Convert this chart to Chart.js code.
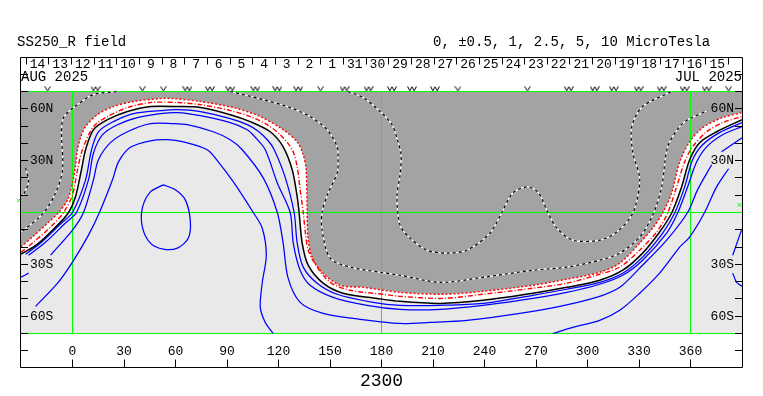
<!DOCTYPE html>
<html>
<head>
<meta charset="utf-8">
<style>html,body{margin:0;padding:0;background:#fff}canvas{display:block}</style>
<script src="https://cdn.jsdelivr.net/npm/chart.js@4"></script>
</head>
<body>
<canvas id="c" width="763" height="396"></canvas>
<script>
const dayLabels = ['14','13','12','11','10','9','8','7','6','5','4','3','2','1','31','30','29','28','27','26','25','24','23','22','21','20','19','18','17','16','15'];
const dayLons = [-20.4,-7.2,6,19.2,32.4,45.6,58.8,72,85.2,98.4,111.6,124.8,138,151.2,164.4,177.6,190.8,204,217.2,230.4,243.6,256.8,270,283.2,296.4,309.6,322.8,336,349.2,362.4,375.6];
const dayTickLons = [-27,-13.8,-0.6,12.6,25.8,39,52.2,65.4,78.6,91.8,105,118.2,131.4,144.6,157.8,171,184.2,197.4,210.6,223.8,237,250.2,263.4,276.6,289.8,303,316.2,329.4,342.6,355.8,369,382.2];
const markVLons = [-14.5,40.7,52.9,144.5,224.5,265];
const markWLons = [13.4,66.9,80,91.9,106.5,119.3,131.5,158.5,172.5,186.1,197.8,211.2,289.1,304.2,315.3,329.8,343.2,356.6,369.4];
const markVLons2 = [382.2];

const redOuter = [[-30,-19.8],[-22.7,-13.6],[-14.5,-6.1],[-8.1,0],[-2.9,7.3],[0,17.1],[1.7,26.4],[2.9,36.3],[4.7,43.3],[7.6,49.7],[14.5,56.6],[23.9,61.3],[35.5,64.2],[51.2,65.9],[58.8,65.9],[74.5,64.2],[93.7,60.7],[109.4,55.5],[122.7,47.9],[130.9,40.9],[134.4,33.4],[136.1,24.7],[136.7,0],[137.3,-16],[139.6,-25.8],[145.4,-34.6],[155.9,-42.1],[169.3,-43.3],[190.8,-46.2],[215.8,-47.3],[239.1,-45.6],[268.2,-42.1],[287.9,-38.6],[307.1,-34.6],[318.8,-29.3],[330.4,-17.7],[338,-9],[343.8,-0.3],[349,11.3],[353.7,29.3],[359.5,40.9],[367.1,49.1],[378.7,54.9],[390,57.8]];
const redInner = [[-30,-23],[-22.7,-17.1],[-12.8,-8.4],[-5.2,0],[0,10.2],[2.9,24.7],[5.8,36.3],[12.2,49.7],[20.4,55.5],[32,60.7],[45.4,63.6],[61.1,63.6],[74.5,62.4],[91.9,59],[103.5,55.5],[113.4,50.8],[121,45],[128,36.3],[130.9,26.4],[132.6,13.1],[134.4,0],[135.5,-10.2],[137.3,-21.8],[142.5,-31.6],[150.1,-40.4],[161.7,-45],[180.9,-47.3],[190.8,-48.5],[215.8,-49.7],[239.1,-47.3],[268.2,-43.8],[287.9,-40.9],[307.1,-35.7],[318.8,-31.6],[330.4,-21.8],[340.3,-11.3],[346.7,-0.3],[351.9,14.8],[356.6,29.3],[361.2,38],[369.4,46.7],[378.7,52],[390,55.5]];
const blackLine = [[-30,-24.1],[-20.4,-18.3],[-8.7,-7.3],[-2.3,0],[1.7,9],[5.2,24.7],[7.6,36.3],[12.2,47.9],[20.4,53.7],[32,58.4],[45.4,61.3],[61.1,61.3],[74.5,60.7],[91.9,56.6],[103.5,52.6],[115.2,46.7],[122.7,38],[128,24.7],[130.9,9],[132,0],[133.8,-17.7],[137.3,-30.5],[146,-40.9],[157.6,-46.7],[177.4,-49.7],[190.8,-51.4],[214.1,-52.6],[239.1,-50.8],[268.2,-46.7],[287.9,-43.3],[307.1,-39.2],[320.5,-33.4],[332.1,-23.5],[342,-11.3],[349,-0.3],[354.8,14.8],[359.5,30.5],[365.3,40.4],[375.2,46.7],[390,53.7]];
const blue1 = [[-27.3,-24.1],[-18.6,-17.7],[-5.8,-5.5],[0,0],[7.6,18.9],[11.1,36.3],[15.1,46.7],[23.9,52.6],[35.5,57.2],[51.2,58.9],[61.1,59.5],[74.5,58.4],[91.9,54.3],[101.8,50.8],[108.2,47],[114,41.5],[117.5,36.3],[123.8,20.6],[129.1,0],[130.9,-17.7],[134.4,-31.6],[142.5,-40.9],[154.2,-47.3],[175.1,-52],[190.8,-53.7],[214.1,-53.7],[239.1,-52.6],[268.2,-47.9],[287.9,-44.4],[307.1,-40.4],[320.5,-35.1],[332.1,-25.8],[343.8,-11.9],[350.8,-0.3],[356.6,14.8],[361.2,30.5],[367.1,39.2],[376.9,46.2],[390,52]];
const blue2 = [[-25.6,-24.7],[-16.3,-17.7],[-3.5,-5.5],[2.3,0],[9.3,18.9],[12.2,34.3],[17.5,45],[26.2,50.8],[37.8,54.9],[51.2,57.2],[61.1,57.8],[74.5,56],[91.9,52],[101.8,47.9],[106.2,43.8],[112.3,36.3],[119.3,17.1],[126.8,0],[128.6,-17.7],[132.6,-33.4],[138.4,-42.1],[151.8,-49.1],[171.6,-53.7],[190.8,-56],[214.1,-56],[239.1,-53.7],[268.2,-49.7],[287.9,-46.2],[307.1,-41.5],[320.5,-36.3],[332.1,-27.6],[346.1,-11.9],[352.5,-0.3],[358.3,14.8],[363.6,29.3],[369.4,38],[378.7,45],[390,49.7]];
const blue3 = [[-12.8,-24.7],[0,-10.2],[6.4,0],[12.2,18.9],[15.1,30.5],[22.1,40.4],[32,46.7],[45.4,51.4],[58.8,51.4],[66.9,50.8],[82,46.7],[91.9,42.1],[98.9,36.3],[111.1,20],[119.3,0],[122.7,-17.7],[125.6,-38],[132.6,-52],[146,-58.4],[167.5,-61.8],[190.8,-64.2],[208.3,-63.6],[229.8,-62.4],[260.6,-58.4],[283.9,-54.3],[307.1,-48.5],[318.8,-43.3],[330.4,-32.2],[346.1,-16],[358.3,0],[364.1,13.1],[372.3,27.6]];
const blue3b = [[378.1,35.1],[390,43.3]];
const blue3c = [[-30,-37.5],[-25.6,-35.1]];
const blue4 = [[-21.5,-54.3],[-8.7,-40.9],[0,-28.7],[9.3,-13.1],[15.7,0],[23.3,18.9],[26.8,29.3],[33.7,37.7],[45.4,41.5],[55.3,42.1],[64.6,40.9],[78.5,36.3],[84.9,29.3],[93.7,17.7],[105.3,0],[110.5,-9],[112.9,-24.7],[110.5,-40.9],[109.4,-54.9],[112.3,-63.6],[116.9,-70]];
const blue4b = [[279.8,-70],[291.4,-66.5],[307.1,-62.4],[318.8,-56.6],[330.4,-46.7],[342,-35.1],[353.7,-20],[359.5,-14.2],[368.2,0],[375.2,14.8],[382.2,25.3]];
const blue5a = [[389.7,-10.2],[384.6,-24.7]];
const blue5b = [[384.6,-35.1],[386.9,-40.4],[390,-42.7]];
const blueLoop = [[52.9,16],[59.9,13.1],[65.7,7.3],[68.6,-4.4],[67.5,-14.8],[61.1,-20.6],[52.9,-21.2],[45.4,-17.7],[40.7,-8.4],[40.7,2.6],[45.4,11.9],[52.9,16]];
const dark1a = [[25.6,70],[12.2,68.2],[0.6,60.7],[-5.2,54.9],[-6.4,46.7],[-5.8,24.7],[-9.9,11.3],[-16.9,-0.3],[-29.7,-11.3]];
const dark1b = [[91.9,70],[111.1,65.3],[126.8,60.7],[138.4,55.5],[148.3,47.9],[154.2,38],[154.7,32.2],[154.2,22.9],[148.9,11.3],[145.4,0],[145.4,-10.2],[150.1,-26.4],[161.7,-31.6],[179.2,-34.6],[190.8,-36.3],[214.1,-40.4],[239.1,-37.5],[268.2,-33.4],[287.9,-31.6],[307.1,-27.6],[318.8,-23.5],[330.4,-14.2],[338,-1.5],[343.2,14.8],[346.7,38],[353.7,49.7],[359.5,54.3],[370,58.9]];
const dark2a = [[160.5,70],[169.3,66.5],[179.2,58.4],[186.1,50.8],[189.6,40.9],[191.4,33.4],[190.8,21.8],[189,9],[190.8,-7.3],[196.6,-14.8],[206.5,-21.8],[218.1,-23.5],[229.8,-21.8],[243.2,-11.9],[250.1,0],[256.5,11.3],[264.7,14.8],[271.1,11.9],[276.9,0],[282.1,-9],[291.4,-16],[307.1,-16],[317,-11.3],[326.4,-0.3],[330.4,18.9],[326.4,34.6],[325.8,49.7],[332.1,61.3],[349,70]];
const dark2b = [[-27.3,25.8],[-25.6,17.7],[-28.5,10.2]];
const greyBand = [[-30,70],[390,70]];
const greenH70 = [[-30,70],[390,70]];
const greenHm70 = [[-30,-70],[390,-70]];
const greenH0 = [[-30,0],[390,0]];
const greenV0 = [[0,70],[0,-70]];
const greenV180 = [[180,70],[180,-70]];
const greenV360 = [[360,70],[360,-70]];
const greenMarks = [[-31.4,7],[388.6,4.4]];
const yLabelMap = {60:'60N',30:'30N','-30':'30S','-60':'60S'};
const titleLeft = 'SS250_R field';
const titleRight = '0, \u00b10.5, 1, 2.5, 5, 10 MicroTesla';
const dateLeft = 'AUG 2025';
const dateRight = 'JUL 2025';
const bottomLabel = '2300';

const FONT = '"Liberation Mono", monospace';
const pts = a => a.map(p => ({x:p[0], y:p[1]}));
function glyph(w, poly){
  const c = document.createElement('canvas'); c.width = w; c.height = 6;
  const g = c.getContext('2d'); g.strokeStyle = '#000'; g.lineWidth = 1;
  g.beginPath(); poly.forEach((p,i)=> i?g.lineTo(p[0],p[1]):g.moveTo(p[0],p[1])); g.stroke();
  return c;
}
const vGlyph = glyph(7, [[0.5,0.5],[3.5,5],[6.5,0.5]]);
const wGlyph = glyph(10, [[0.5,0.5],[2.8,5],[5,1],[7.2,5],[9.5,0.5]]);

const sets = [];
const area = (data,color)=>sets.push({data:pts(data),borderWidth:0,borderColor:color,backgroundColor:color,fill:{value:-70},pointRadius:0,tension:0.3});
const line = (data,color,w,dash)=>sets.push({data:pts(data),borderColor:color,borderWidth:w||1,borderDash:dash||[],fill:false,pointRadius:0,tension:0.3,borderCapStyle:'butt'});
const straight = (data,color)=>sets.push({data:pts(data),borderColor:color,borderWidth:1,fill:false,pointRadius:0,tension:0});
const mark = (lons,img)=>sets.push({data:lons.map(v=>({x:v,y:71.6})),showLine:false,pointStyle:img,pointRadius:4,clip:false});

area(greyBand,'#a3a3a3');
area(redOuter,'#ffffff');
area(blackLine,'#e9e9e9');
[greenH70,greenHm70,greenH0,greenV0,greenV180,greenV360].forEach(d=>straight(d,'#00ff00'));
[blue4,blue4b,blue3,blue3b,blue3c,blue2,blue1,blue5a,blue5b,blueLoop].forEach(d=>line(d,'#0000ff',1.25));
line(blackLine,'#000000',1.5);
line(redInner,'#ff0000',1.4,[5,2,1,2]);
line(redOuter,'#ff0000',1.4,[2,2]);
[dark1a,dark1b,dark2a,dark2b].forEach(d=>{line(d,'#ffffff',1.2);line(d,'#000000',1.2,[3,3]);});
mark(markVLons.concat(markVLons2),vGlyph);
mark(markWLons,wGlyph);
sets.push({data:pts(greenMarks),showLine:false,pointStyle:'crossRot',pointRadius:2.5,borderColor:'#00ff00',borderWidth:1,clip:false});
sets.forEach((s,i)=>{s.order = sets.length - i;});

const framePlugin = {
  id:'frame',
  afterDatasetsDraw(chart){
    const g = chart.ctx, xs = chart.scales.x, ys = chart.scales.y;
    const L=20.5,R=742.5,T=57.5,B=367.5;
    g.save();
    g.strokeStyle='#000'; g.lineWidth=1;
    g.beginPath();
    g.rect(L,T,R-L,B-T);
    ys.ticks.forEach(t=>{
      if(t.value===0||Math.abs(t.value)===90) return;
      const y=Math.floor(ys.getPixelForValue(t.value))+0.5;
      g.moveTo(L,y);g.lineTo(L+7.5,y);
      g.moveTo(R,y);g.lineTo(R-7.5,y);
    });
    xs.ticks.forEach(t=>{
      if(t.value<0||t.value>360) return;
      const x=Math.floor(xs.getPixelForValue(t.value))+0.5;
      g.moveTo(x,B);g.lineTo(x,B-8);
    });
    dayTickLons.forEach(v=>{
      const x=Math.floor(xs.getPixelForValue(v))+0.5;
      g.moveTo(x,T);g.lineTo(x,T+7);
    });
    g.stroke();
    g.fillStyle='#000';
    g.textBaseline='alphabetic';
    g.font='14px '+FONT;
    g.textAlign='left';
    g.fillText(titleLeft,17,46);
    g.fillText(titleRight,433,46);
    g.fillText(dateLeft,21,81);
    g.textAlign='right';
    g.fillText(dateRight,742,81);
    g.textAlign='center';
    g.font='18px '+FONT;
    g.fillText(bottomLabel,xs.getPixelForValue(180),386);
    g.restore();
  }
};
const zeroH = s=>{s.height=0;};
const zeroW = s=>{s.width=0;};
const yFmt = v=>yLabelMap[v]||'';
const tickFont = {family:FONT,size:13};

new Chart(document.getElementById('c'),{
  type:'line',
  data:{datasets:sets},
  plugins:[framePlugin],
  options:{
    responsive:false,animation:false,devicePixelRatio:1,
    layout:{padding:{left:21,right:21,top:56.93,bottom:27.93}},
    plugins:{legend:{display:false},tooltip:{enabled:false},title:{display:false}},
    events:[],
    scales:{
      x:{type:'linear',position:'bottom',min:-30,max:390,afterFit:zeroH,
        grid:{display:false,drawTicks:false},border:{display:false},
        ticks:{z:2,mirror:true,stepSize:30,color:'#000',font:tickFont,padding:8.5,maxRotation:0,autoSkip:false,
          callback:v=>(v<0||v>360)?'':String(v)}},
      x2:{type:'linear',position:'top',min:-30,max:390,afterFit:zeroH,
        afterBuildTicks:s=>{s.ticks=dayLons.map(v=>({value:v}));},
        grid:{display:false,drawTicks:false},border:{display:false},
        ticks:{z:2,mirror:true,color:'#000',font:tickFont,padding:-0.5,maxRotation:0,autoSkip:false,
          callback:(v,i)=>dayLabels[i]}},
      y:{type:'linear',position:'left',min:-90,max:90,afterFit:zeroW,
        grid:{display:false,drawTicks:false},border:{display:false},
        ticks:{z:2,stepSize:10,mirror:true,padding:9,color:'#000',font:tickFont,autoSkip:false,callback:yFmt}},
      y2:{type:'linear',position:'right',min:-90,max:90,afterFit:zeroW,
        grid:{display:false,drawTicks:false},border:{display:false},
        ticks:{z:2,stepSize:10,mirror:true,padding:-8,color:'#000',font:tickFont,autoSkip:false,callback:yFmt}}
    }
  }
});
</script>
</body>
</html>
